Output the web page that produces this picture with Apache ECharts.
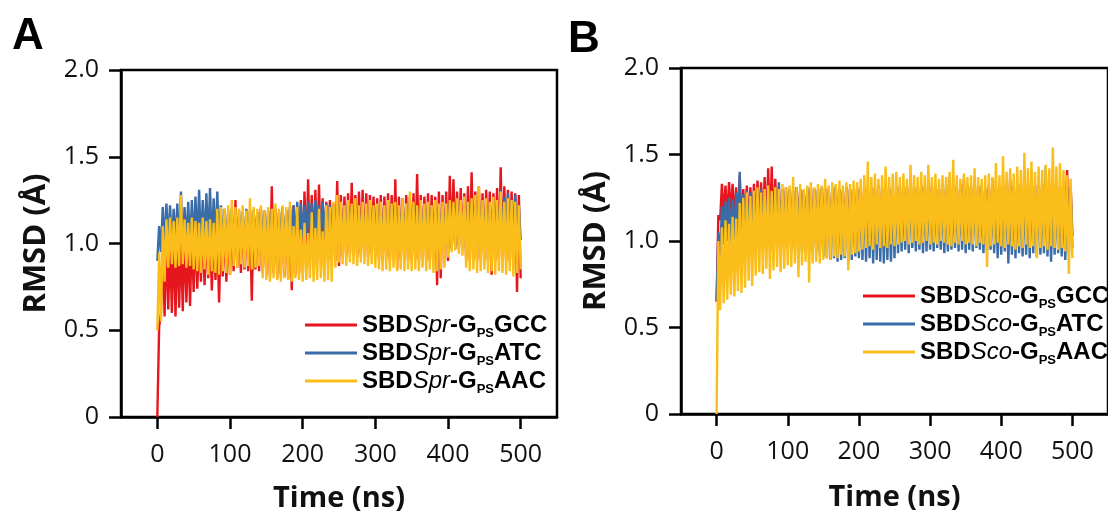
<!DOCTYPE html>
<html><head><meta charset="utf-8">
<script src="https://cdn.jsdelivr.net/npm/echarts@6/dist/echarts.min.js"></script>
<style>html,body{margin:0;padding:0;background:#fff}#chart{width:1108px;height:518px}</style>
</head><body><div id="chart"></div>
<script>
// sampling interval of the traces (ns)
const timeStep = 2.5;
const xTickValues = [0, 100, 200, 300, 400, 500];
const yTickValues = [0, 0.5, 1.0, 1.5, 2.0];

// Panel A  (SBDSpr)
const sprGCC = [0.00,
 0.52,0.60,1.02,0.58,1.05,0.62,1.03,0.60,1.06,0.58,1.04,0.63,1.05,0.61,1.07,0.66,1.04,0.64,1.06,0.72,
 1.08,0.74,1.06,0.78,1.09,0.76,1.07,0.80,1.08,0.73,1.10,0.79,1.07,0.66,1.09,0.81,1.11,0.78,1.08,0.82,
 1.12,0.84,1.25,0.86,1.15,0.83,1.18,0.85,1.16,0.84,1.19,0.67,1.17,0.85,1.18,0.84,1.20,0.83,1.17,0.82,
 1.19,0.81,1.33,0.83,1.20,0.80,1.18,0.82,1.21,0.81,1.19,0.80,1.20,0.73,1.22,0.82,1.21,0.83,1.25,0.84,
 1.30,0.90,1.37,0.91,1.28,0.90,1.31,0.92,1.34,0.91,1.26,0.92,1.24,0.90,1.25,0.91,1.23,0.90,1.36,0.87,
 1.28,0.93,1.27,0.92,1.29,0.94,1.35,0.93,1.28,0.92,1.30,0.94,1.31,0.93,1.29,0.92,1.28,0.94,1.27,0.93,
 1.26,0.91,1.28,0.90,1.27,0.92,1.29,0.90,1.28,0.91,1.37,0.85,1.27,0.91,1.26,0.90,1.28,0.91,1.27,0.90,
 1.29,0.91,1.40,0.90,1.28,0.92,1.27,0.91,1.29,0.90,1.28,0.92,1.27,0.76,1.30,0.80,1.28,0.91,1.30,0.90,
 1.39,0.97,1.37,0.98,1.30,0.97,1.32,0.98,1.29,0.91,1.33,0.90,1.41,0.91,1.30,0.90,1.33,0.91,1.29,0.90,
 1.31,0.91,1.30,0.82,1.29,0.90,1.32,0.91,1.44,0.90,1.33,0.91,1.31,0.90,1.30,0.91,1.29,0.72,1.28,0.80];
const sprATC = [0.90,
 1.10,0.95,1.21,0.98,1.23,1.00,1.22,0.98,1.20,0.99,1.23,0.97,1.30,0.98,1.21,0.99,1.24,0.97,1.25,0.98,
 1.27,0.99,1.31,0.97,1.25,0.98,1.29,0.99,1.32,0.97,1.26,0.98,1.30,0.97,1.22,0.98,1.20,0.99,1.19,0.97,
 1.20,0.98,1.18,0.97,1.19,0.99,1.17,0.98,1.20,0.97,1.18,0.98,1.19,0.99,1.18,0.97,1.20,0.98,1.19,0.99,
 1.18,0.98,1.20,0.97,1.19,0.98,1.18,0.99,1.20,0.98,1.19,0.97,1.21,0.98,1.22,1.00,1.24,1.02,1.23,1.03,
 1.22,1.05,1.24,1.04,1.23,1.06,1.25,1.05,1.22,1.04,1.24,1.03,1.23,1.05,1.22,1.02,1.21,1.00,1.23,0.99,
 1.21,0.98,1.20,0.99,1.22,0.98,1.21,0.97,1.20,0.99,1.21,0.98,1.22,0.97,1.20,0.98,1.21,0.99,1.20,0.98,
 1.21,0.97,1.22,0.98,1.20,0.99,1.21,0.97,1.22,0.98,1.20,0.97,1.21,0.99,1.23,0.98,1.22,0.97,1.24,0.98,
 1.22,0.97,1.21,0.98,1.23,0.97,1.22,0.99,1.21,0.98,1.22,0.97,1.20,0.98,1.21,0.99,1.23,0.98,1.22,0.97,
 1.23,0.98,1.22,0.97,1.24,0.99,1.23,0.98,1.22,0.97,1.23,0.98,1.24,0.99,1.22,0.98,1.25,0.97,1.23,0.98,
 1.24,0.97,1.22,0.98,1.25,0.99,1.23,0.98,1.31,0.97,1.27,1.00,1.29,0.99,1.25,1.01,1.28,1.00,1.22,1.02];
const sprAAC = [0.50,
 0.95,0.55,1.10,0.78,1.14,0.86,1.15,0.88,1.13,0.86,1.15,0.87,1.28,0.88,1.14,0.86,1.12,0.87,1.15,0.85,
 1.13,0.84,1.12,0.83,1.15,0.85,1.13,0.82,1.14,0.84,1.12,0.83,1.20,0.82,1.21,0.84,1.20,0.83,1.22,0.82,
 1.25,0.87,1.21,0.86,1.20,0.88,1.22,0.86,1.19,0.87,1.26,0.85,1.21,0.86,1.20,0.87,1.22,0.80,1.19,0.79,
 1.21,0.78,1.20,0.80,1.23,0.79,1.20,0.78,1.22,0.80,1.21,0.79,1.24,0.78,1.10,0.80,1.21,0.79,1.08,0.78,
 1.12,0.79,1.06,0.80,1.18,0.78,1.09,0.79,1.20,0.80,1.07,0.78,1.22,0.79,1.21,0.78,1.24,0.86,1.28,0.89,
 1.24,0.88,1.22,0.87,1.25,0.89,1.23,0.88,1.26,0.87,1.22,0.89,1.24,0.88,1.23,0.87,1.25,0.88,1.22,0.86,
 1.23,0.85,1.24,0.84,1.22,0.85,1.25,0.84,1.23,0.86,1.24,0.84,1.22,0.85,1.26,0.84,1.23,0.85,1.30,0.84,
 1.24,0.85,1.22,0.84,1.25,0.86,1.23,0.84,1.24,0.85,1.22,0.83,1.25,0.84,1.23,0.85,1.24,0.86,1.23,0.92,
 1.25,0.95,1.24,0.96,1.26,0.94,1.25,0.93,1.27,0.86,1.24,0.84,1.26,0.85,1.28,0.83,1.33,0.84,1.25,0.85,
 1.26,0.83,1.24,0.84,1.27,0.82,1.25,0.84,1.30,0.83,1.24,0.82,1.26,0.84,1.25,0.81,1.24,0.83,1.22,0.85];

// Panel B  (SBDSco)
const scoGCC = [0.65,
 1.15,1.12,1.33,1.14,1.32,1.13,1.34,1.15,1.33,1.12,1.31,1.08,1.38,1.06,1.30,1.05,1.32,1.06,1.31,1.05,
 1.33,1.06,1.35,1.05,1.34,1.07,1.37,1.05,1.42,1.06,1.43,1.05,1.36,1.04,1.31,1.05,1.30,1.04,1.31,1.05,
 1.30,1.04,1.29,1.03,1.31,1.04,1.30,1.05,1.29,1.03,1.30,1.04,1.31,1.03,1.30,1.04,1.29,1.03,1.30,1.04,
 1.31,1.03,1.30,1.04,1.29,1.02,1.31,1.03,1.30,1.04,1.29,1.03,1.31,1.02,1.30,1.03,1.29,1.04,1.31,1.03,
 1.30,1.02,1.31,1.03,1.29,1.02,1.30,1.04,1.31,1.03,1.30,1.02,1.29,1.03,1.31,1.02,1.30,1.03,1.29,1.02,
 1.31,1.03,1.30,1.02,1.32,1.03,1.31,1.04,1.33,1.02,1.31,1.03,1.30,1.02,1.32,1.03,1.31,1.02,1.35,1.03,
 1.32,1.02,1.31,1.03,1.30,1.02,1.32,1.04,1.31,1.03,1.30,1.02,1.32,1.03,1.31,1.02,1.33,1.03,1.36,1.02,
 1.32,1.03,1.31,1.02,1.30,1.03,1.32,1.02,1.31,1.03,1.30,1.04,1.32,1.03,1.36,1.02,1.31,1.03,1.30,1.02,
 1.32,1.03,1.31,1.04,1.36,1.03,1.32,1.02,1.31,1.03,1.30,1.02,1.32,1.03,1.31,1.04,1.30,1.03,1.32,1.02,
 1.31,1.03,1.33,1.02,1.32,1.03,1.31,1.04,1.30,1.02,1.32,1.03,1.31,1.02,1.33,1.03,1.41,1.04,1.32,1.03];
const scoATC = [0.65,
 1.05,0.90,1.20,0.98,1.23,1.00,1.25,0.99,1.24,1.01,1.28,0.98,1.40,0.99,1.27,1.00,1.29,0.98,1.28,0.99,
 1.29,0.98,1.28,0.97,1.30,0.98,1.29,0.96,1.30,0.97,1.28,0.98,1.29,0.97,1.34,0.96,1.30,0.97,1.29,0.96,
 1.30,0.95,1.29,0.96,1.31,0.95,1.30,0.94,1.29,0.95,1.31,0.94,1.30,0.93,1.29,0.94,1.30,0.92,1.31,0.91,
 1.30,0.90,1.29,0.89,1.31,0.90,1.32,0.88,1.30,0.89,1.29,0.90,1.31,0.88,1.30,0.89,1.29,0.91,1.30,0.90,
 1.31,0.89,1.30,0.88,1.32,0.90,1.31,0.87,1.30,0.89,1.32,0.88,1.31,0.87,1.30,0.89,1.31,0.88,1.30,0.90,
 1.31,0.93,1.32,0.94,1.30,0.95,1.31,0.93,1.32,0.96,1.30,0.94,1.31,0.95,1.32,0.93,1.31,0.94,1.33,0.95,
 1.31,0.94,1.32,0.96,1.30,0.95,1.31,0.93,1.33,0.94,1.37,0.95,1.31,0.96,1.32,0.94,1.30,0.95,1.31,0.93,
 1.32,0.95,1.31,0.94,1.33,0.96,1.31,0.95,1.32,0.93,1.30,0.94,1.31,0.95,1.32,0.93,1.31,0.90,1.32,0.92,
 1.31,0.94,1.33,0.87,1.32,0.92,1.31,0.90,1.32,0.93,1.33,0.91,1.31,0.92,1.32,0.90,1.40,0.93,1.32,0.91,
 1.33,0.92,1.32,0.93,1.43,0.91,1.33,0.88,1.32,0.92,1.31,0.93,1.32,0.91,1.30,0.89,1.31,0.92,1.30,0.96];
const scoAAC = [0.00,
 1.00,0.60,1.08,0.64,1.12,0.66,1.10,0.69,1.14,0.68,1.13,0.71,1.22,0.70,1.25,0.73,1.28,0.77,1.26,0.74,
 1.29,0.80,1.31,0.82,1.28,0.81,1.30,0.84,1.32,0.78,1.29,0.83,1.31,0.85,1.30,0.82,1.33,0.84,1.31,0.86,
 1.32,0.85,1.37,0.87,1.31,0.79,1.33,0.86,1.30,0.88,1.32,0.76,1.34,0.87,1.31,0.88,1.33,0.87,1.32,0.89,
 1.36,0.90,1.32,0.89,1.34,0.91,1.33,0.90,1.35,0.92,1.32,0.91,1.34,0.83,1.33,0.92,1.35,0.93,1.34,0.94,
 1.36,0.95,1.38,0.96,1.46,0.97,1.37,0.95,1.39,0.98,1.36,0.96,1.38,0.97,1.43,0.96,1.37,0.98,1.39,0.97,
 1.40,0.98,1.37,0.99,1.39,1.00,1.36,0.98,1.44,0.99,1.38,1.00,1.37,0.98,1.40,0.99,1.38,1.00,1.44,0.98,
 1.37,0.99,1.39,0.98,1.36,1.00,1.38,0.99,1.37,0.98,1.40,0.97,1.47,0.99,1.38,0.98,1.36,1.00,1.39,0.98,
 1.37,0.99,1.38,0.98,1.42,0.97,1.37,0.99,1.36,0.98,1.38,0.85,1.39,0.97,1.37,0.98,1.45,0.99,1.38,0.97,
 1.49,0.96,1.40,0.98,1.42,0.97,1.39,0.95,1.43,0.97,1.41,0.96,1.51,0.98,1.42,0.96,1.46,0.97,1.40,0.90,
 1.43,0.96,1.41,0.97,1.44,0.95,1.42,0.97,1.54,0.96,1.43,0.95,1.45,0.96,1.41,0.94,1.38,0.81,1.36,0.90];

const seriesNamesA = ['SBDSpr-GPSGCC', 'SBDSpr-GPSATC', 'SBDSpr-GPSAAC'];
const seriesNamesB = ['SBDSco-GPSGCC', 'SBDSco-GPSATC', 'SBDSco-GPSAAC'];
const colors = ['#e5161d', '#3a6ca7', '#fbbd19'];

function toPairs(vals) { return vals.map((v, i) => [i * timeStep, v]); }

const tickFont = 'Open Sans';
function makeX(gridIndex, nameGap) {
  return {
    type: 'value', gridIndex, min: -50, max: 550,
    name: 'Time (ns)', nameLocation: 'middle', nameGap,
    nameTextStyle: { fontFamily: 'Open Sans', fontWeight: 'bold', fontSize: 29, color: '#111' },
    axisLine: { onZero: false, lineStyle: { color: '#000', width: 2.5 } },
    axisTick: { show: true, length: 12, inside: false, customValues: xTickValues, lineStyle: { color: '#000', width: 2.5 } },
    axisLabel: { customValues: xTickValues, fontFamily: tickFont, fontSize: 25, color: '#111', margin: 25 },
    splitLine: { show: false }
  };
}
function makeY(gridIndex, nameGap) {
  return {
    type: 'value', gridIndex, min: 0, max: 2, interval: 0.5,
    name: 'RMSD (Å)', nameLocation: 'middle', nameGap,
    nameTextStyle: { fontFamily: 'Open Sans', fontWeight: 'bold', fontSize: 31, color: '#111' },
    axisLine: { show: true, onZero: false, lineStyle: { color: '#000', width: 2.5 } },
    axisTick: { show: true, length: 12, inside: false, lineStyle: { color: '#000', width: 2.5 } },
    axisLabel: { fontFamily: tickFont, fontSize: 25, color: '#111', margin: 22,
      formatter: v => (v === 0 ? '0' : v.toFixed(1)) },
    splitLine: { show: false }
  };
}
const richStyles = {
  b: { fontFamily: 'Liberation Sans', fontWeight: 'bold', fontSize: 24, lineHeight: 24, verticalAlign: 'top', color: '#000' },
  i: { fontFamily: 'Liberation Sans', fontStyle: 'italic', fontWeight: 'normal', fontSize: 24, lineHeight: 24, verticalAlign: 'top', color: '#000' },
  s: { fontFamily: 'Liberation Sans', fontWeight: 'bold', fontSize: 13, lineHeight: 13, verticalAlign: 'top', padding: [14, 0, 0, 0], color: '#000' }
};
function legendFormatter(name) {
  const sp = name.slice(3, 6);
  const tail = name.slice(10);
  return '{b|SBD}{i|' + sp + '}{b|-G}{s|PS}{b|' + tail + '}';
}
function makeLegend(names, left, top) {
  return {
    data: names, orient: 'vertical', left, top, itemWidth: 52, itemHeight: 3, itemGap: 1,
    icon: 'rect',
    formatter: legendFormatter,
    textStyle: { rich: richStyles }
  };
}

const series = [];
[sprGCC, sprATC, sprAAC].forEach((vals, k) => series.push({
  type: 'line', name: seriesNamesA[k], xAxisIndex: 0, yAxisIndex: 0, data: toPairs(vals),
  symbol: 'none', lineStyle: { width: 2.4, color: colors[k] }, itemStyle: { color: colors[k] }, z: 2 + k
}));
[scoGCC, scoATC, scoAAC].forEach((vals, k) => series.push({
  type: 'line', name: seriesNamesB[k], xAxisIndex: 1, yAxisIndex: 1, data: toPairs(vals),
  symbol: 'none', lineStyle: { width: 2.4, color: colors[k] }, itemStyle: { color: colors[k] }, z: 2 + k
}));

const chart = echarts.init(document.getElementById('chart'), null, { renderer: 'canvas' });
chart.setOption({
  animation: false,
  backgroundColor: '#fff',
  grid: [
    { left: 121, top: 70, width: 436, height: 348, show: true, borderColor: '#000', borderWidth: 2.5, backgroundColor: 'transparent' },
    { left: 681, top: 68, width: 436, height: 346, show: true, borderColor: '#000', borderWidth: 2.5, backgroundColor: 'transparent' }
  ],
  xAxis: [makeX(0, 67), makeX(1, 69)],
  yAxis: [makeY(0, 69), makeY(1, 69)],
  legend: [makeLegend(seriesNamesA, 300, 308), makeLegend(seriesNamesB, 858, 279)],
  graphic: [
    { type: 'text', style: { text: 'A', x: 28, y: 37, align: 'center', verticalAlign: 'middle', font: 'bold 44px "Liberation Sans"', fill: '#000' } },
    { type: 'text', style: { text: 'B', x: 584, y: 40, align: 'center', verticalAlign: 'middle', font: 'bold 44px "Liberation Sans"', fill: '#000' } }
  ],
  series
});
</script></body></html>
